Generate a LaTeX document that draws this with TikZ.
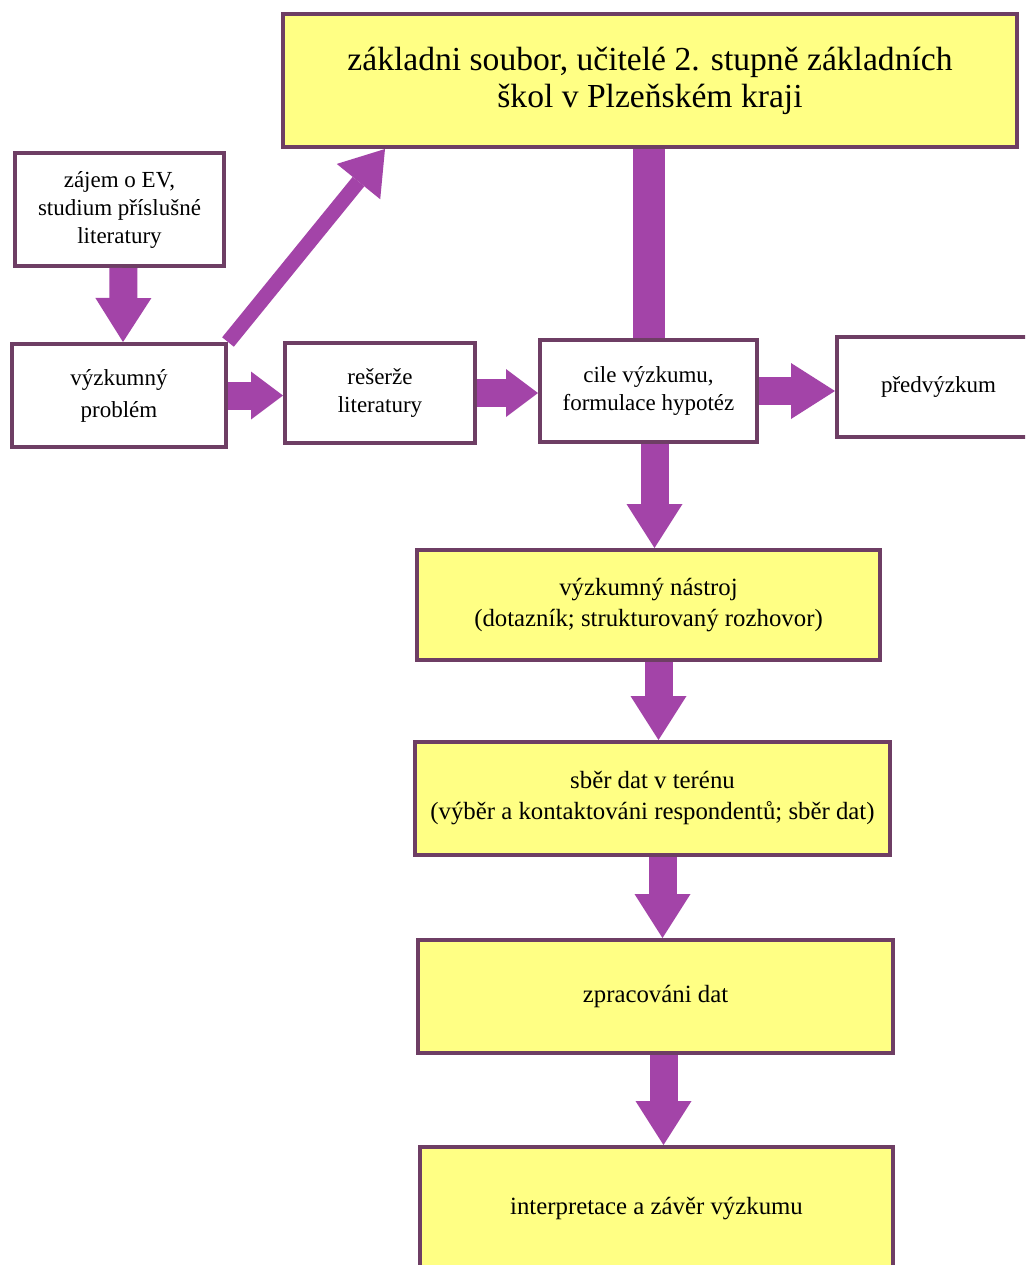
\documentclass[tikz,border=0pt]{standalone}
\usepackage{fontspec}
\setmainfont{Liberation Serif}
\usetikzlibrary{arrows.meta}

\definecolor{boxline}{RGB}{110,62,100}
\definecolor{arrowpurple}{RGB}{163,68,168}
\definecolor{boxyellow}{RGB}{255,255,132}

\tikzset{
  box/.style={draw=boxline, line width=2pt, fill=white, align=center, inner sep=0pt,
    font=\fontsize{11.5}{14}\selectfont},
  ybox/.style={box, fill=boxyellow, font=\fontsize{12.4}{15.5}\selectfont},
  bigarrow/.style={draw=arrowpurple, line width=14pt,
    -{Triangle[width=28pt,length=22pt,line width=0pt]}},
  shortarrow/.style={draw=arrowpurple, line width=14pt,
    -{Triangle[width=24pt,length=16pt,line width=0pt]}},
  thinarrow/.style={draw=arrowpurple, line width=7.5pt,
    -{Triangle[width=28pt,length=21pt,line width=0pt]}},
  bar/.style={draw=arrowpurple, line width=16pt},
}

\begin{document}
\begin{tikzpicture}[x=0.5pt, y=-0.5pt]

    \useasboundingbox[fill=white] (0,0) rectangle (1025,1265);
    \clip (0,0) rectangle (1025,1265);

    % upper row
    \node[ybox, minimum width=367pt, minimum height=66.5pt,
          font=\fontsize{16.8}{18.5}\selectfont] (soubor) at (650,80.5)
          {základni soubor, učitelé 2. stupně základních\\ škol v Plzeňském kraji};
    \node[box, minimum width=104.5pt, minimum height=56.5pt] (zajem) at (119.5,209.5)
          {zájem o EV,\\ studium příslušné\\ literatury};

    % middle row
    \node[box, minimum width=107pt, minimum height=51.5pt,
          font=\fontsize{11.5}{16}\selectfont] (problem) at (119,395.5) {výzkumný\\ problém};
    \node[box, minimum width=95pt, minimum height=50pt] (reserse) at (380,393) {rešerže\\ literatury};
    \node[box, minimum width=108.5pt, minimum height=51pt] (cile) at (648.5,391)
          {cile výzkumu,\\ formulace hypotéz};
    \node[box, minimum width=101.5pt, minimum height=50pt] (predvyzkum) at (938.5,387) {předvýzkum};

    % yellow column
    \node[ybox, minimum width=231.5pt, minimum height=55pt] (nastroj) at (648.5,605)
          {výzkumný nástroj\\ (dotazník; strukturovaný rozhovor)};
    \node[ybox, minimum width=237.5pt, minimum height=56.5pt] (sber) at (652.5,798.5)
          {sběr dat v terénu\\ (výběr a kontaktováni respondentů; sběr dat)};
    \node[ybox, minimum width=237.5pt, minimum height=56.5pt] (zpracovani) at (655.5,996.5)
          {zpracováni dat};
    \node[ybox, minimum width=236.5pt, minimum height=61.5pt] (zaver) at (656.5,1208.5)
          {interpretace a závěr výzkumu};

    % arrows
    \draw[bigarrow] ([xshift=2pt]zajem.south) -- ([xshift=2pt]problem.north);
    \draw[thinarrow] (problem.north east) -- ([xshift=52pt]soubor.south west);
    \draw[shortarrow] (problem.east) -- (problem.east -| reserse.west);
    \draw[shortarrow] (reserse.east) -- (reserse.east -| cile.west);
    \draw[bigarrow] (cile.east) -- (cile.east -| predvyzkum.west);
    \draw[bar] (cile.north |- soubor.south) -- (cile.north);
    \draw[bigarrow] ([xshift=3pt]cile.south) -- ([xshift=3pt]cile.south |- nastroj.north);
    \draw[bigarrow] ([xshift=5pt]nastroj.south) -- ([xshift=5pt]nastroj.south |- sber.north);
    \draw[bigarrow] ([xshift=5pt]sber.south) -- ([xshift=5pt]sber.south |- zpracovani.north);
    \draw[bigarrow] ([xshift=4pt]zpracovani.south) -- ([xshift=4pt]zpracovani.south |- zaver.north);

\end{tikzpicture}
\end{document}
